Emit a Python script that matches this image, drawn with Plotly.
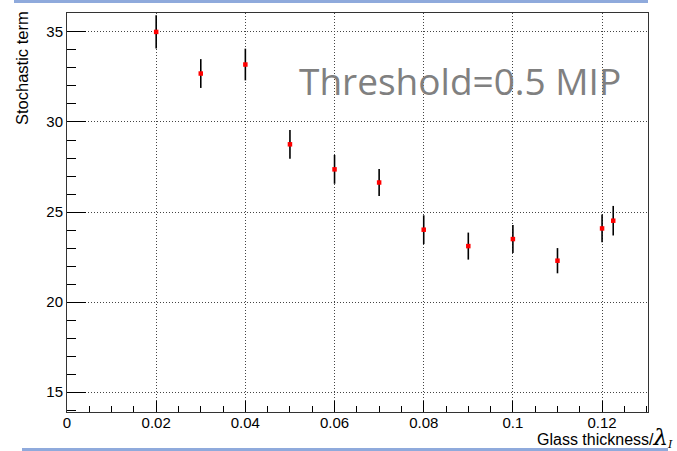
import plotly.graph_objects as go

# Glass thickness in units of the nuclear interaction length
thickness = [0.02, 0.03, 0.04, 0.05, 0.06, 0.07, 0.08, 0.09, 0.10, 0.11, 0.12, 0.1225]
# Fitted stochastic term and its uncertainty
stochastic = [35.0, 32.69, 33.19, 28.76, 27.37, 26.64, 24.02, 23.11, 23.50, 22.30, 24.09, 24.52]
stochastic_err = [0.92, 0.80, 0.88, 0.80, 0.80, 0.75, 0.80, 0.75, 0.78, 0.70, 0.77, 0.82]

x_ticks = [0, 0.02, 0.04, 0.06, 0.08, 0.1, 0.12]
x_tick_text = ["0", "0.02", "0.04", "0.06", "0.08", "0.1", "0.12"]
y_ticks = [15, 20, 25, 30, 35]

W, H = 677, 451
L, R, T, B = 67, 29, 13, 39
PW, PH = W - L - R, H - T - B


def px(xp):
    return (xp - L) / PW


def py(yp):
    return (H - B - yp) / PH


fig = go.Figure()
fig.add_trace(go.Scatter(
    x=thickness, y=stochastic, mode="markers",
    marker=dict(symbol="square", size=4.5, color="#ff0000", line=dict(width=0)),
    error_y=dict(type="data", array=stochastic_err, visible=True,
                 color="black", thickness=1.6, width=0),
    showlegend=False,
))

axis_font = dict(family="Liberation Sans, Arial, sans-serif", size=15, color="black")

fig.update_layout(
    width=W, height=H,
    margin=dict(l=L, r=R, t=T, b=B),
    paper_bgcolor="white", plot_bgcolor="white",
    xaxis=dict(
        range=[0, 0.1303], tickmode="array", tickvals=x_ticks, ticktext=x_tick_text,
        ticks="inside", ticklen=11, tickwidth=1, tickcolor="black",
        ticklabelstandoff=-3,
        minor=dict(dtick=0.005, tick0=0, ticks="inside", ticklen=6,
                   tickcolor="black", showgrid=False),
        showgrid=True, gridcolor="#444", griddash="1px,2px", gridwidth=1,
        zeroline=False, showline=True, linecolor="#333", linewidth=1, mirror=True,
        tickfont=axis_font,
    ),
    yaxis=dict(
        range=[13.9, 36.05], tickvals=y_ticks,
        ticks="inside", ticklen=19, tickwidth=1, tickcolor="black",
        minor=dict(dtick=1, tick0=0, ticks="inside", ticklen=9,
                   tickcolor="black", showgrid=False),
        showgrid=True, gridcolor="#444", griddash="1px,2px", gridwidth=1,
        zeroline=False, showline=True, linecolor="#333", linewidth=1, mirror=True,
        tickfont=axis_font,
    ),
)

# Axis titles
fig.add_annotation(
    text="Stochastic term", textangle=-90, showarrow=False,
    xref="paper", yref="paper", x=px(22), y=py(9),
    xanchor="center", yanchor="top",
    font=dict(family="Liberation Sans, Arial, sans-serif", size=16.5, color="black"),
)
fig.add_annotation(
    text="Glass thickness/<span style=\"font-family:'DejaVu Serif';font-size:23px\"><i>λ</i></span>"
         "<sub><span style=\"font-family:'DejaVu Serif'\"><i>I</i></span></sub>",
    showarrow=False,
    xref="paper", yref="paper", x=px(675), y=py(453),
    xanchor="right", yanchor="bottom",
    font=dict(family="Liberation Sans, Arial, sans-serif", size=16, color="black"),
)

# Threshold label
fig.add_annotation(
    text="Threshold=0.5 MIP", showarrow=False,
    xref="paper", yref="paper", x=px(460), y=py(80),
    xanchor="center", yanchor="middle",
    font=dict(family="Open Sans, sans-serif", size=37, color="#808080"),
)

# Decorative rules above and below the frame
fig.add_shape(type="line", xref="paper", yref="paper",
              x0=px(14), x1=px(648), y0=py(1.5), y1=py(1.5),
              line=dict(color="#8FAADC", width=3))
fig.add_shape(type="line", xref="paper", yref="paper",
              x0=px(22), x1=px(668), y0=py(449.5), y1=py(449.5),
              line=dict(color="#8FAADC", width=3))

fig.write_html("out.html")
